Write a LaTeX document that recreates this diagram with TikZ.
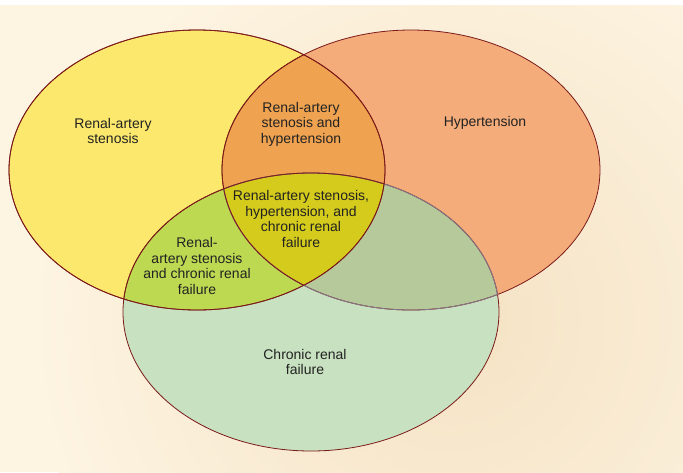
\documentclass[tikz,border=0pt]{standalone}
\usepackage{fontspec}
\setmainfont{Liberation Sans}
\definecolor{bgcream}{HTML}{FDF4E2}
\definecolor{bgshadow}{HTML}{F5E2C3}
\definecolor{cyel}{HTML}{FCE86C}
\definecolor{cred}{HTML}{F4AC7A}
\definecolor{cgrn}{HTML}{C8E1C0}
\definecolor{cyr}{HTML}{EFA350}
\definecolor{cyg}{HTML}{BDD951}
\definecolor{crg}{HTML}{B6C99B}
\definecolor{cyrg}{HTML}{D5CB1C}
\definecolor{cline}{HTML}{7B1A1A}
\definecolor{cgray}{HTML}{85788A}
\definecolor{ctext}{HTML}{222222}
\begin{document}
\begin{tikzpicture}[x=1pt,y=-1pt,
  lbl/.style={align=center,text=ctext,font=\fontsize{14}{15.5}\selectfont,inner sep=0pt},
  outl/.style={draw=cline,line width=0.8pt}]
\def\Yell{(197,170) ellipse [x radius=188pt, y radius=140pt]}
\def\Rell{(411,170) ellipse [x radius=189pt, y radius=140pt]}
\def\Gell{(311,312) ellipse [x radius=188pt, y radius=139pt]}
\useasboundingbox (0,0) rectangle (683,472);
% background
\fill[bgcream] (0,0) rectangle (683,472);
\begin{scope}
\clip (0,5) rectangle (683,472);
\shade[inner color=bgshadow, outer color=bgcream] (450,320) circle (420pt);
\end{scope}
\fill[white] (0,0) rectangle (683,5);
% fills
\fill[cyel] \Yell;
\fill[cred] \Rell;
\fill[cgrn] \Gell;
\begin{scope}\clip \Yell; \fill[cyr] \Rell; \end{scope}
\begin{scope}\clip \Yell; \fill[cyg] \Gell; \end{scope}
\begin{scope}\clip \Rell; \fill[crg] \Gell; \end{scope}
\begin{scope}\clip \Yell; \clip \Rell; \fill[cyrg] \Gell; \end{scope}
% outlines
\path[outl] \Yell;
\path[outl] \Rell;
\path[outl] \Gell;
\begin{scope}\clip \Rell; \draw[cgray,line width=0.8pt] \Gell; \end{scope}
\begin{scope}\clip \Gell; \draw[cgray,line width=0.8pt] \Rell; \end{scope}
\begin{scope}\clip \Yell; \path[outl] \Gell; \path[outl] \Rell; \end{scope}
\path[outl] \Yell;
% labels
\node[lbl] (ys) at (113,131) {Renal-artery\\stenosis};
\node[lbl] (yr) at (301,124) {Renal-artery\\stenosis and\\hypertension};
\node[lbl] (rs) at (485,123) {Hypertension};
\node[lbl] (yrg) at (301,219) {Renal-artery stenosis,\\hypertension, and\\chronic renal\\failure};
\node[lbl] (yg) at (197,266) {Renal-\\artery stenosis\\and chronic renal\\failure};
\node[lbl] (gs) at (305,362) {Chronic renal\\failure};
\end{tikzpicture}
\end{document}
